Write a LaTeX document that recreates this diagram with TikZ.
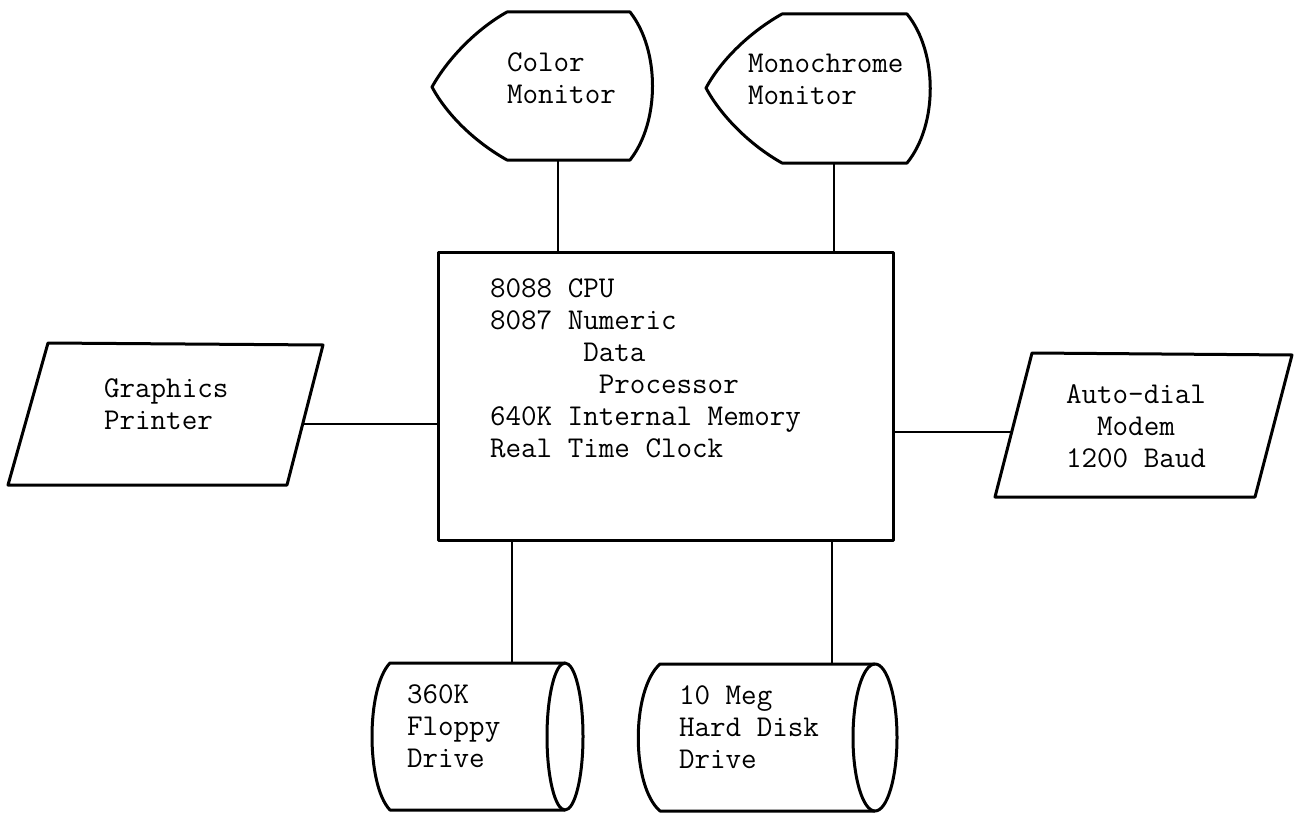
\documentclass[tikz,border=0pt]{standalone}
\usepackage{fontspec}
\newcommand\devfont{\ttfamily\addfontfeatures{RawFeature={embolden=1.3}}\fontsize{15.1}{16}\selectfont}
\tikzset{
  outline/.style={line width=1.5pt, line join=round},
  wire/.style={line width=1.4pt},
  devlabel/.style={inner sep=0pt, outer sep=0pt, font=\devfont, anchor=base west},
}
\begin{document}
\begin{tikzpicture}[x=0.5pt,y=-0.5pt]
\useasboundingbox (0,0) rectangle (1295,813);

% central unit
\node[draw, outline, inner sep=0pt, outer sep=0pt, minimum width=227.5pt, minimum height=144pt, anchor=north west] (cpu) at (438,252) {};
\node[devlabel] (cputext) at (490,297) {\begin{tabular}[t]{@{}l@{}}8088 CPU\\8087 Numeric\\\phantom{000000}Data\\\phantom{0000000}Processor\\640K Internal Memory\\Real Time Clock\end{tabular}};

% color monitor
\draw[outline] (507,12) -- (630,12) .. controls (660,50) and (660,122) .. (630,160) -- (507,160) .. controls (475,142) and (447,115) .. (432,87) .. controls (447,60) and (475,30) .. cycle;
\node[devlabel] (cmon) at (507,72) {\begin{tabular}[t]{@{}l@{}}Color\\Monitor\end{tabular}};

% monochrome monitor
\draw[outline] (782,14) -- (907,14) .. controls (938,52) and (938,125) .. (907,163) -- (782,163) .. controls (750,145) and (721,116) .. (706,88) .. controls (721,60) and (750,32) .. cycle;
\node[devlabel] (mmon) at (748,73) {\begin{tabular}[t]{@{}l@{}}Monochrome\\Monitor\end{tabular}};

% printer
\draw[outline] (48,343) -- (323,345) -- (287,485) -- (8,485) -- cycle;
\node[devlabel] (prt) at (104,397) {\begin{tabular}[t]{@{}l@{}}Graphics\\Printer\end{tabular}};

% modem
\draw[outline] (1032,353) -- (1292,355) -- (1255,497) -- (995,497) -- cycle;
\node[devlabel, anchor=base] (mdm) at (1136,403) {\begin{tabular}[t]{@{}c@{}}Auto-dial\\Modem\\1200 Baud\end{tabular}};

% floppy drive
\draw[outline] (565,663) -- (390,663) .. controls (366,688) and (366,785) .. (390,810) -- (565,810);
\draw[outline] (565,736.5) ellipse [x radius=18, y radius=73.5];
\node[devlabel] (fd) at (407,703) {\begin{tabular}[t]{@{}l@{}}360K\\Floppy\\Drive\end{tabular}};

% hard disk
\draw[outline] (875,664) -- (660,664) .. controls (631,690) and (631,786) .. (660,811) -- (875,811);
\draw[outline] (875,737.5) ellipse [x radius=22, y radius=73.5];
\node[devlabel] (hd) at (679,704) {\begin{tabular}[t]{@{}l@{}}10 Meg\\Hard Disk\\Drive\end{tabular}};

% connectors
\coordinate (cmon-b) at (558,160);
\coordinate (mmon-b) at (834,163);
\coordinate (prt-r) at (303,424);
\coordinate (mdm-l) at (1012,432);
\coordinate (fd-t) at (512,663);
\coordinate (hd-t) at (832,664);
\draw[wire] (cmon-b) -- (cpu.north -| cmon-b);
\draw[wire] (mmon-b) -- (cpu.north -| mmon-b);
\draw[wire] (prt-r) -- (cpu.west |- prt-r);
\draw[wire] (mdm-l) -- (cpu.east |- mdm-l);
\draw[wire] (fd-t) -- (cpu.south -| fd-t);
\draw[wire] (hd-t) -- (cpu.south -| hd-t);
\end{tikzpicture}
\end{document}
